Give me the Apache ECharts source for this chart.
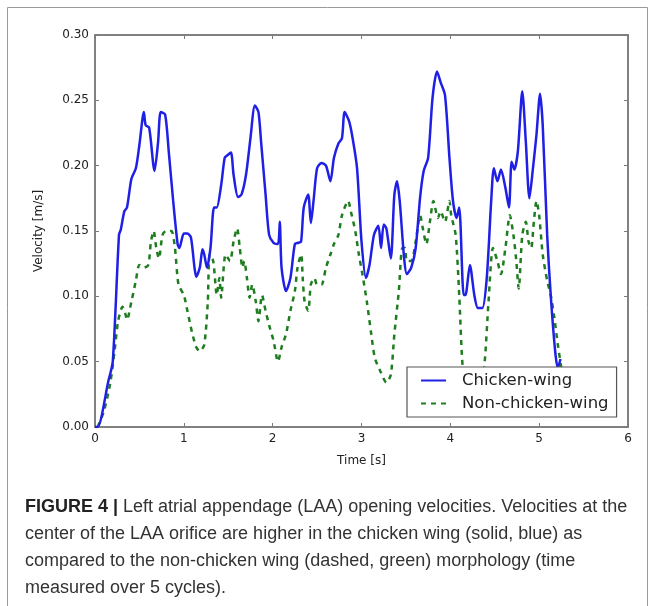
<!DOCTYPE html>
<html>
<head>
<meta charset="utf-8">
<script src="https://cdn.jsdelivr.net/npm/echarts@6/dist/echarts.min.js"></script>
<style>
html,body{margin:0;padding:0;background:#fff;}
#c{width:655px;height:606px;}
</style>
</head>
<body>
<div id="c"></div>
<script>
// Chicken-wing (solid, blue)
var cwTime = [0, 0.03, 0.15, 0.2, 0.27, 0.29, 0.33, 0.36, 0.41, 0.46, 0.5, 0.55, 0.57, 0.61, 0.67, 0.71, 0.74, 0.79, 0.83, 0.88, 0.93, 0.95, 1.0, 1.04, 1.08, 1.12, 1.14, 1.18, 1.21, 1.23, 1.26, 1.3, 1.34, 1.37, 1.42, 1.46, 1.49, 1.53, 1.56, 1.61, 1.65, 1.7, 1.75, 1.8, 1.84, 1.87, 1.92, 1.96, 2.01, 2.06, 2.08, 2.1, 2.15, 2.2, 2.25, 2.29, 2.32, 2.35, 2.4, 2.43, 2.46, 2.5, 2.55, 2.6, 2.65, 2.69, 2.74, 2.78, 2.81, 2.86, 2.9, 2.95, 3.0, 3.05, 3.09, 3.14, 3.19, 3.22, 3.25, 3.28, 3.33, 3.37, 3.4, 3.43, 3.48, 3.51, 3.56, 3.61, 3.66, 3.7, 3.75, 3.8, 3.85, 3.89, 3.94, 3.99, 4.03, 4.07, 4.1, 4.15, 4.17, 4.22, 4.27, 4.31, 4.36, 4.41, 4.46, 4.49, 4.53, 4.57, 4.62, 4.66, 4.69, 4.72, 4.76, 4.81, 4.85, 4.89, 4.93, 4.97, 5.01, 5.04, 5.09, 5.13, 5.18, 5.21, 5.24];
var cwVel = [0, 0, 0.035, 0.05, 0.147, 0.151, 0.165, 0.168, 0.19, 0.198, 0.216, 0.241, 0.231, 0.229, 0.196, 0.218, 0.241, 0.239, 0.211, 0.173, 0.14, 0.137, 0.148, 0.148, 0.145, 0.122, 0.115, 0.122, 0.136, 0.132, 0.122, 0.137, 0.168, 0.168, 0.185, 0.206, 0.208, 0.21, 0.193, 0.176, 0.178, 0.193, 0.221, 0.246, 0.241, 0.218, 0.178, 0.147, 0.141, 0.14, 0.157, 0.122, 0.104, 0.114, 0.14, 0.141, 0.142, 0.168, 0.178, 0.156, 0.173, 0.198, 0.202, 0.2, 0.188, 0.206, 0.217, 0.221, 0.241, 0.234, 0.221, 0.198, 0.142, 0.114, 0.124, 0.147, 0.154, 0.137, 0.155, 0.152, 0.129, 0.178, 0.188, 0.173, 0.129, 0.117, 0.122, 0.137, 0.176, 0.196, 0.206, 0.252, 0.272, 0.264, 0.254, 0.206, 0.173, 0.16, 0.168, 0.101, 0.101, 0.124, 0.101, 0.091, 0.091, 0.114, 0.173, 0.198, 0.188, 0.197, 0.183, 0.168, 0.203, 0.197, 0.211, 0.257, 0.218, 0.175, 0.198, 0.224, 0.255, 0.231, 0.147, 0.101, 0.058, 0.045, 0.052];

// Non-chicken-wing (dashed, green)
var ncwTime = [0.03, 0.1, 0.17, 0.22, 0.26, 0.31, 0.34, 0.36, 0.41, 0.46, 0.5, 0.55, 0.6, 0.63, 0.66, 0.69, 0.72, 0.76, 0.8, 0.86, 0.9, 0.94, 1.0, 1.04, 1.09, 1.14, 1.18, 1.23, 1.27, 1.29, 1.33, 1.35, 1.37, 1.4, 1.42, 1.47, 1.52, 1.56, 1.6, 1.63, 1.66, 1.68, 1.71, 1.74, 1.77, 1.81, 1.84, 1.88, 1.92, 1.96, 2.01, 2.06, 2.1, 2.15, 2.2, 2.25, 2.28, 2.32, 2.34, 2.36, 2.4, 2.43, 2.47, 2.5, 2.55, 2.6, 2.65, 2.69, 2.74, 2.78, 2.85, 2.88, 2.93, 2.97, 3.01, 3.06, 3.11, 3.15, 3.21, 3.28, 3.33, 3.37, 3.42, 3.46, 3.49, 3.51, 3.56, 3.61, 3.66, 3.69, 3.73, 3.77, 3.81, 3.86, 3.89, 3.94, 3.99, 4.01, 4.06, 4.1, 4.14, 4.2, 4.3, 4.38, 4.43, 4.48, 4.53, 4.57, 4.62, 4.67, 4.71, 4.74, 4.77, 4.81, 4.85, 4.88, 4.91, 4.94, 4.97, 5.0, 5.04, 5.09, 5.13, 5.17, 5.21, 5.25];
var ncwVel = [0, 0.012, 0.033, 0.058, 0.081, 0.092, 0.087, 0.082, 0.096, 0.112, 0.124, 0.122, 0.124, 0.142, 0.15, 0.137, 0.129, 0.147, 0.15, 0.15, 0.137, 0.109, 0.101, 0.089, 0.073, 0.061, 0.058, 0.063, 0.096, 0.132, 0.127, 0.114, 0.101, 0.114, 0.099, 0.132, 0.127, 0.142, 0.152, 0.137, 0.122, 0.127, 0.114, 0.099, 0.109, 0.096, 0.081, 0.101, 0.089, 0.078, 0.066, 0.05, 0.061, 0.071, 0.089, 0.104, 0.122, 0.132, 0.112, 0.096, 0.089, 0.109, 0.114, 0.109, 0.109, 0.122, 0.132, 0.14, 0.147, 0.162, 0.173, 0.165, 0.15, 0.132, 0.117, 0.096, 0.071, 0.053, 0.043, 0.034, 0.04, 0.071, 0.104, 0.137, 0.137, 0.127, 0.127, 0.142, 0.162, 0.152, 0.14, 0.157, 0.173, 0.16, 0.165, 0.157, 0.173, 0.162, 0.147, 0.101, 0.045, 0.02, 0.015, 0.045, 0.096, 0.137, 0.127, 0.117, 0.137, 0.162, 0.147, 0.129, 0.106, 0.147, 0.157, 0.142, 0.137, 0.157, 0.173, 0.162, 0.132, 0.112, 0.101, 0.084, 0.063, 0.045];

var seriesNames = ['Chicken-wing', 'Non-chicken-wing'];
var xTicks = {min: 0, max: 6, interval: 1};
var yTicks = {min: 0, max: 0.30, interval: 0.05};
var xName = 'Time [s]';
var yName = 'Velocity [m/s]';
var captionBold = 'FIGURE 4 | ';
var captionLines = [
  'Left atrial appendage (LAA) opening velocities. Velocities at the',
  'center of the LAA orifice are higher in the chicken wing (solid, blue) as',
  'compared to the non-chicken wing (dashed, green) morphology (time',
  'measured over 5 cycles).'
];

function pairs(t, v) { return t.map(function (x, i) { return [x, v[i]]; }); }

var chart = echarts.init(document.getElementById('c'), null, {renderer: 'canvas'});
var frameColor = '#7a7a7a';
var tickFont = {fontFamily: 'DejaVu Sans', fontSize: 12, color: '#222'};

var capFont = '"Liberation Sans Narrow", "Liberation Sans", Roboto, sans-serif';
var graphics = [
  {type: 'rect', shape: {x: 7.5, y: 7.5, width: 640, height: 620}, style: {fill: 'none', stroke: '#999', lineWidth: 1}, silent: true}
];
var capY = [508, 535, 562, 589];
captionLines.forEach(function (line, i) {
  graphics.push({
    type: 'text', left: 25, top: capY[i] - 10,
    style: {
      text: i === 0 ? '{b|' + captionBold + '}{r|' + line + '}' : '{r|' + line + '}',
      rich: {
        b: {fontFamily: capFont, fontSize: 18, fontWeight: 'bold', fill: '#222'},
        r: {fontFamily: capFont, fontSize: 18, fill: '#333'}
      }
    }
  });
});

var secondaryAxisStyle = {
  axisLine: {show: true, onZero: false, lineStyle: {color: frameColor, width: 1.5}},
  axisTick: {show: true, inside: true, length: 4, lineStyle: {color: frameColor}},
  axisLabel: {show: false}, splitLine: {show: false}
};

chart.setOption({
  animation: false,
  backgroundColor: '#fff',
  grid: {left: 95, right: 27, top: 35, bottom: 179, containLabel: false,
         show: true, borderColor: frameColor, borderWidth: 1.5, backgroundColor: 'transparent'},
  xAxis: [
    {type: 'value', min: xTicks.min, max: xTicks.max, interval: xTicks.interval, position: 'bottom',
     name: xName, nameLocation: 'middle', nameGap: 28,
     nameTextStyle: {fontFamily: 'DejaVu Sans', fontSize: 12, color: '#222'},
     axisLine: {show: true, onZero: false, lineStyle: {color: frameColor, width: 1.5}},
     axisTick: {show: true, inside: true, length: 4, lineStyle: {color: frameColor}},
     axisLabel: Object.assign({margin: 6, formatter: function (v) { return String(v); }}, tickFont),
     splitLine: {show: false}},
    Object.assign({type: 'value', min: xTicks.min, max: xTicks.max, interval: xTicks.interval, position: 'top'}, secondaryAxisStyle)
  ],
  yAxis: [
    {type: 'value', min: yTicks.min, max: yTicks.max, interval: yTicks.interval, position: 'left',
     name: yName, nameLocation: 'middle', nameGap: 50, nameRotate: 90,
     nameTextStyle: {fontFamily: 'DejaVu Sans', fontSize: 12, color: '#222'},
     axisLine: {show: true, onZero: false, lineStyle: {color: frameColor, width: 1.5}},
     axisTick: {show: true, inside: true, length: 4, lineStyle: {color: frameColor}},
     axisLabel: Object.assign({margin: 6, formatter: function (v) { return v.toFixed(2); }}, tickFont),
     splitLine: {show: false}},
    Object.assign({type: 'value', min: yTicks.min, max: yTicks.max, interval: yTicks.interval, position: 'right'}, secondaryAxisStyle)
  ],
  legend: {
    left: 407, top: 367, orient: 'vertical',
    backgroundColor: '#fff', borderColor: '#555', borderWidth: 1.2, borderRadius: 0,
    padding: [5, 8, 5, 13], itemGap: 6, itemWidth: 25, itemHeight: 14,
    itemStyle: {opacity: 0},
    textStyle: {fontFamily: 'DejaVu Sans', fontSize: 16.5, color: '#222', padding: [0, 0, 0, 11]},
    data: seriesNames, z: 10
  },
  series: [
    {name: seriesNames[0], type: 'line', xAxisIndex: 0, yAxisIndex: 0, data: pairs(cwTime, cwVel),
     showSymbol: false, symbol: 'none', smooth: 0.25,
     lineStyle: {color: '#1f1fe6', width: 2.5}, itemStyle: {color: '#1f1fe6'}, z: 3},
    {name: seriesNames[1], type: 'line', xAxisIndex: 0, yAxisIndex: 0, data: pairs(ncwTime, ncwVel),
     showSymbol: false, symbol: 'none', smooth: 0.25,
     lineStyle: {color: '#1e7d1e', width: 2.5, type: [5, 5]}, itemStyle: {color: '#1e7d1e'}, z: 2},
    {name: 'frame', type: 'line', xAxisIndex: 1, yAxisIndex: 1, data: [], silent: true}
  ],
  graphic: graphics
});
</script>
</body>
</html>
